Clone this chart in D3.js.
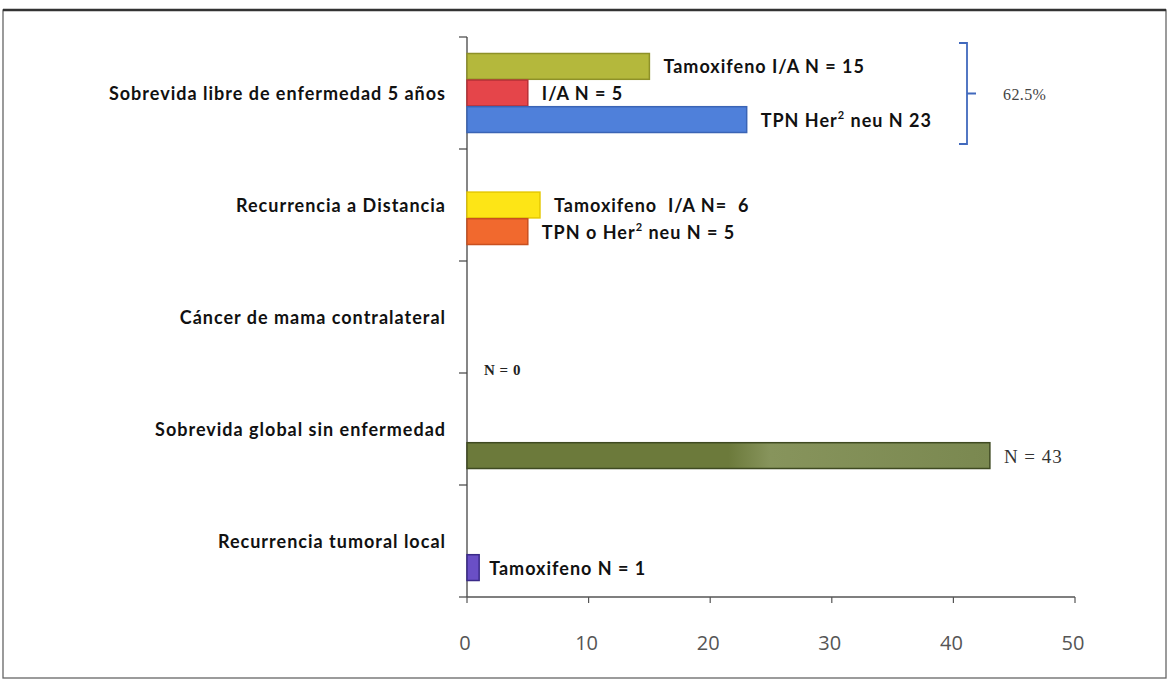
<!DOCTYPE html>
<html><head><meta charset="utf-8">
<script src="https://cdn.jsdelivr.net/npm/d3@7"></script>
<style>
html,body{margin:0;padding:0;background:#fff;}
svg{display:block;}
</style></head>
<body>
<script>
// ---- data ----
const categories = [
  "Sobrevida libre de enfermedad 5 años",
  "Recurrencia a Distancia",
  "Cáncer de mama contralateral",
  "Sobrevida global sin enfermedad",
  "Recurrencia tumoral local"
];
const slots = [0, 1, 2];
const barCategory = [
  "Sobrevida libre de enfermedad 5 años",
  "Sobrevida libre de enfermedad 5 años",
  "Sobrevida libre de enfermedad 5 años",
  "Recurrencia a Distancia",
  "Recurrencia a Distancia",
  "Sobrevida global sin enfermedad",
  "Recurrencia tumoral local"
];
const barSlot = [0, 1, 2, 1, 2, 2, 2];
const barValues = [15, 5, 23, 6, 5, 43, 1];
const barLabels = [
  "Tamoxifeno I/A N = 15",
  "I/A N = 5",
  "TPN Her|2| neu N 23",
  "Tamoxifeno  I/A N=  6",
  "TPN o Her|2| neu N = 5",
  "N = 43",
  "Tamoxifeno N = 1"
];
const barColors = ["#b4b83c", "#e5454a", "#4f80da", "#fde516", "#f1692e", "#6f7d3f", "#6a4fc6"];
const barStrokes = ["#8e9128", "#b83036", "#3a64b5", "#e5c800", "#c9501f", "#3f4a22", "#3a2a88"];
const serifLabels = [false, false, false, false, false, true, false];
const zeroLabel = "N = 0";
const zeroCategory = "Cáncer de mama contralateral";
const bracketText = "62.5%";
const xTicks = [0, 10, 20, 30, 40, 50];
const xMax = 50;

// ---- drawing ----
const W = 1169, H = 685;
const svg = d3.select("body").append("svg").attr("width", W).attr("height", H);

// frame
svg.append("rect").attr("x", 3).attr("y", 10).attr("width", 1163).attr("height", 668)
  .attr("fill", "none").attr("stroke", "#666").attr("stroke-width", 1.3);
svg.append("line").attr("x1", 3).attr("x2", 1166).attr("y1", 10).attr("y2", 10)
  .attr("stroke", "#333").attr("stroke-width", 2.5);

const x0 = 467, x1 = 1075, yTop = 37, yBot = 597;
const x = d3.scaleLinear().domain([0, xMax]).range([x0, x1]);
const y = d3.scaleBand().domain(categories).range([yTop, yBot]).padding(0);
const ys = d3.scaleBand().domain(slots).range([0, y.bandwidth()]).paddingInner(0.03).paddingOuter(0.62);

const labelFont = "Lato, 'Open Sans', sans-serif";

// y axis
const yAxisG = svg.append("g");
yAxisG.append("line").attr("x1", x0).attr("x2", x0).attr("y1", yTop).attr("y2", yBot)
  .attr("stroke", "#444").attr("stroke-width", 1.3);
const yTickPos = categories.map(c => y(c)).concat([yBot]);
yAxisG.selectAll("line.tk").data(yTickPos).join("line").attr("class", "tk")
  .attr("x1", x0 - 8).attr("x2", x0).attr("y1", d => d).attr("y2", d => d)
  .attr("stroke", "#444").attr("stroke-width", 1.2);
yAxisG.selectAll("text.cat").data(categories).join("text").attr("class", "cat")
  .attr("x", 446).attr("y", d => y(d) + y.bandwidth() / 2)
  .attr("text-anchor", "end").attr("dominant-baseline", "central")
  .attr("font-family", labelFont).attr("font-weight", "bold").attr("font-size", 18)
  .attr("letter-spacing", 1)
  .attr("fill", "#111").text(d => d);

// x axis
const xAxisG = svg.append("g").attr("transform", `translate(0,${yBot})`);
xAxisG.append("line").attr("x1", x0).attr("x2", x1).attr("y1", 0).attr("y2", 0)
  .attr("stroke", "#555").attr("stroke-width", 1.3);
xAxisG.selectAll("line.tk").data(xTicks).join("line").attr("class", "tk")
  .attr("x1", d => x(d)).attr("x2", d => x(d)).attr("y1", 0).attr("y2", 6)
  .attr("stroke", "#555").attr("stroke-width", 1.2);
xAxisG.selectAll("text").data(xTicks).join("text")
  .attr("x", d => x(d) - 2).attr("y", 53).attr("text-anchor", "middle")
  .attr("font-family", "'Open Sans', sans-serif").attr("font-size", 20)
  .attr("fill", "#555").text(d => d);

// bars
const idx = d3.range(barValues.length);
const defs = svg.append("defs");
const grad = defs.append("linearGradient").attr("id", "g43").attr("x1", 0).attr("x2", 1).attr("y1", 0).attr("y2", 0);
grad.append("stop").attr("offset", "0%").attr("stop-color", "#6c7a3b");
grad.append("stop").attr("offset", "50%").attr("stop-color", "#6c7a3b");
grad.append("stop").attr("offset", "58%").attr("stop-color", "#87945c");
grad.append("stop").attr("offset", "100%").attr("stop-color", "#7a8850");

svg.append("g").selectAll("rect").data(idx).join("rect")
  .attr("x", x(0))
  .attr("y", i => y(barCategory[i]) + ys(barSlot[i]))
  .attr("width", i => x(barValues[i]) - x(0))
  .attr("height", ys.bandwidth())
  .attr("fill", i => barValues[i] === 43 ? "url(#g43)" : barColors[i])
  .attr("stroke", i => barStrokes[i]).attr("stroke-width", 1.5);

// value labels
const lbl = svg.append("g").selectAll("text").data(idx).join("text")
  .attr("x", i => x(barValues[i]) + (barValues[i] < 2 ? 10 : 14))
  .attr("y", i => y(barCategory[i]) + ys(barSlot[i]) + ys.bandwidth() / 2)
  .attr("dominant-baseline", "central")
  .attr("font-family", i => serifLabels[i] ? "'Liberation Serif', serif" : labelFont)
  .attr("font-weight", i => serifLabels[i] ? "normal" : "bold")
  .attr("font-size", i => serifLabels[i] ? 19 : 18)
  .attr("letter-spacing", 1)
  .attr("fill", i => serifLabels[i] ? "#333" : "#111")
  .attr("xml:space", "preserve");
lbl.each(function(i) {
  const parts = barLabels[i].split("|");
  const t = d3.select(this);
  parts.forEach((p, k) => {
    const sp = t.append("tspan").text(p);
    if (k % 2 === 1) sp.attr("font-size", 11).attr("dy", -6);
    else if (k > 0) sp.attr("dy", 6);
  });
});

// zero label
svg.append("text").attr("x", x(0) + 17).attr("y", y(zeroCategory) + y.bandwidth() - 3)
  .attr("dominant-baseline", "central").attr("font-family", "'Liberation Serif', serif")
  .attr("font-weight", "bold").attr("font-size", 15).attr("letter-spacing", 0.5)
  .attr("fill", "#222").text(zeroLabel);

// bracket
const c0 = categories[0];
const bTop = y(c0) + 6, bBot = y(c0) + y.bandwidth() - 5, bx = 967;
const bmid = (bTop + bBot) / 2;
svg.append("path")
  .attr("d", `M${bx - 8},${bTop} L${bx},${bTop} L${bx},${bBot} L${bx - 8},${bBot} M${bx},${bmid} L${bx + 9},${bmid}`)
  .attr("fill", "none").attr("stroke", "#4169bd").attr("stroke-width", 1.8);
svg.append("text").attr("x", 1003).attr("y", bmid + 1).attr("dominant-baseline", "central")
  .attr("font-family", "'Liberation Serif', serif").attr("font-size", 16).attr("letter-spacing", 0.4)
  .attr("fill", "#444").text(bracketText);
</script>
</body></html>
